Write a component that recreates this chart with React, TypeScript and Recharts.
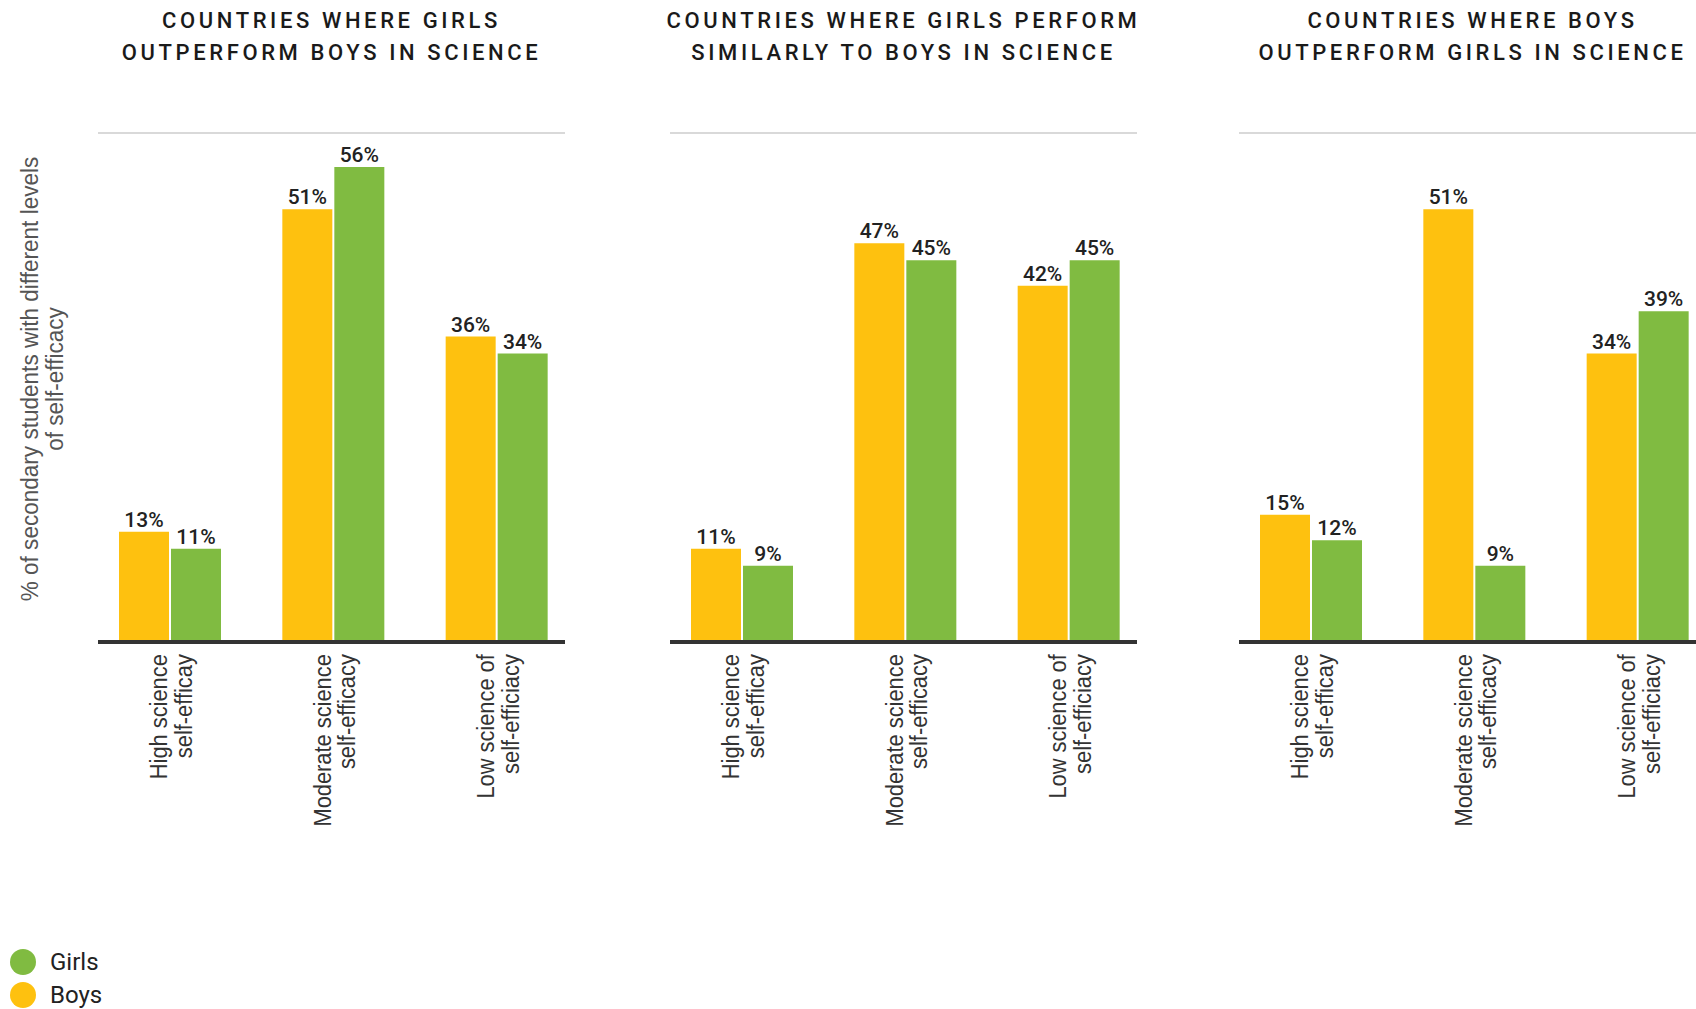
import React from 'react';
import { BarChart, Bar, XAxis, YAxis, CartesianGrid, LabelList, Label } from 'recharts';

const categories = ['High', 'Moderate', 'Low'];
const categoryLines: string[][] = [
  ['High science', 'self-efficay'],
  ['Moderate science', 'self-efficacy'],
  ['Low science of', 'self-efficiacy'],
];

const girlsOutperformBoys = [13, 51, 36];
const girlsOutperformGirls = [11, 56, 34];
const similarBoys = [11, 47, 42];
const similarGirls = [9, 45, 45];
const boysOutperformBoys = [15, 51, 34];
const boysOutperformGirls = [12, 9, 39];

const panelTitles: string[][] = [
  ['COUNTRIES WHERE GIRLS', 'OUTPERFORM BOYS IN SCIENCE'],
  ['COUNTRIES WHERE GIRLS PERFORM', 'SIMILARLY TO BOYS IN SCIENCE'],
  ['COUNTRIES WHERE BOYS', 'OUTPERFORM GIRLS IN SCIENCE'],
];

const yTicks = [0, 20, 40, 60];

const BOYS = '#fec10f';
const GIRLS = '#80bb41';
const SANS = "'Liberation Sans', Arial, sans-serif";

const buildRows = (boys: number[], girls: number[]) =>
  categories.map((c, i) => ({ cat: c, boys: boys[i], girls: girls[i] }));

const panels = [
  { title: panelTitles[0], data: buildRows(girlsOutperformBoys, girlsOutperformGirls), plotLeft: 98 },
  { title: panelTitles[1], data: buildRows(similarBoys, similarGirls), plotLeft: 670 },
  { title: panelTitles[2], data: buildRows(boysOutperformBoys, boysOutperformGirls), plotLeft: 1239 },
];

const PLOT_W = 467;
const PLOT_TOP = 133;
const PLOT_BOTTOM = 642;
const X_AXIS_H = 130;

const CategoryTick = (props: any) => {
  const { x, y, payload } = props;
  const idx = categories.indexOf(payload.value);
  const lines = categoryLines[idx] || [payload.value];
  return (
    <g transform={`translate(${x},${y - 4}) rotate(-90) scale(0.91,1)`}>
      {lines.map((l, i) => (
        <text key={i} x={-9} y={-2.5 + i * 25} textAnchor="end" fill="#333" fontSize={24} fontFamily={SANS}>
          {l}
        </text>
      ))}
    </g>
  );
};

const YTitle = () => (
  <g transform="translate(42,379) rotate(-90) scale(0.94,1)">
    <text x={0} y={-4.5} textAnchor="middle" fill="#555" fontSize={24} fontFamily={SANS}>
      % of secondary students with different levels
    </text>
    <text x={0} y={20.5} textAnchor="middle" fill="#555" fontSize={24} fontFamily={SANS}>
      of self-efficacy
    </text>
  </g>
);

const Panel = ({ idx }: { idx: number }) => {
  const p = panels[idx];
  const first = idx === 0;
  const yW = first ? 78 : 0;
  const mLeft = first ? p.plotLeft - yW : 10;
  const mRight = 10;
  const width = mLeft + yW + PLOT_W + mRight;
  const chartLeft = p.plotLeft - mLeft - yW;
  return (
    <>
      <div
        style={{
          position: 'absolute',
          left: p.plotLeft - 100,
          width: PLOT_W + 200,
          top: 5,
          textAlign: 'center',
          fontFamily: 'Roboto, sans-serif',
          fontWeight: 500,
          fontSize: 22,
          letterSpacing: 3.6,
          lineHeight: '32px',
          color: '#1a1a1a',
        }}
      >
        {p.title.map((t, i) => (
          <div key={i}>{t}</div>
        ))}
      </div>
      <div style={{ position: 'absolute', left: chartLeft, top: 0 }}>
        <BarChart
          width={width}
          height={1009}
          data={p.data}
          margin={{ top: PLOT_TOP, left: mLeft, right: mRight, bottom: 1009 - PLOT_BOTTOM - X_AXIS_H }}
          barSize={50}
          barGap={2}
        >
          <CartesianGrid vertical={false} stroke="#d9d9d9" strokeWidth={2} />
          <XAxis
            dataKey="cat"
            height={X_AXIS_H}
            interval={0}
            tickLine={false}
            axisLine={{ stroke: '#333', strokeWidth: 4 }}
            tick={<CategoryTick />}
            padding={{ left: -10, right: -13 }}
          />
          <YAxis
            hide={!first}
            width={yW}
            domain={[0, 60]}
            ticks={yTicks}
            tick={false}
            tickLine={false}
            axisLine={false}
          >
            {first && <Label content={<YTitle />} />}
          </YAxis>
          <Bar dataKey="boys" name="Boys" fill={BOYS} isAnimationActive={false}>
            <LabelList
              dataKey="boys"
              position="top"
              offset={5}
              formatter={(v: any) => `${v}%`}
              fill="#222"
              fontSize={21}
              fontWeight={500}
              fontFamily="Roboto, sans-serif"
            />
          </Bar>
          <Bar dataKey="girls" name="Girls" fill={GIRLS} isAnimationActive={false}>
            <LabelList
              dataKey="girls"
              position="top"
              offset={5}
              formatter={(v: any) => `${v}%`}
              fill="#222"
              fontSize={21}
              fontWeight={500}
              fontFamily="Roboto, sans-serif"
            />
          </Bar>
        </BarChart>
      </div>
    </>
  );
};

const legendItems = [
  { name: 'Girls', color: GIRLS },
  { name: 'Boys', color: BOYS },
];

export default function App() {
  return (
    <div
      style={{
        position: 'absolute',
        left: 0,
        top: 0,
        width: 1696,
        height: 1009,
        overflow: 'hidden',
        background: '#fff',
      }}
    >
      {panels.map((_, i) => (
        <Panel key={i} idx={i} />
      ))}
      <div style={{ position: 'absolute', left: 10, top: 945, fontFamily: 'Roboto, sans-serif', fontSize: 24, color: '#222' }}>
        {legendItems.map((it) => (
          <div key={it.name} style={{ display: 'flex', alignItems: 'center', height: 33 }}>
            <span style={{ width: 26, height: 26, borderRadius: '50%', background: it.color, display: 'inline-block', marginRight: 14 }} />
            <span style={{ lineHeight: '26px' }}>{it.name}</span>
          </div>
        ))}
      </div>
    </div>
  );
}
